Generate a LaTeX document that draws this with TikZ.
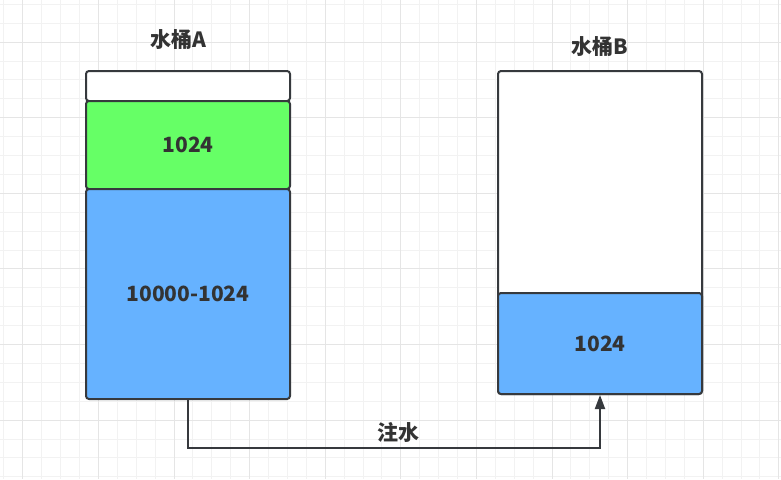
\documentclass[tikz,border=0pt]{standalone}
\usepackage{fontspec}
\setmainfont{Noto Sans CJK SC}
\usetikzlibrary{arrows.meta}
\definecolor{edge}{HTML}{36393D}
\definecolor{txt}{HTML}{333333}
\definecolor{waterblue}{HTML}{66B2FF}
\definecolor{watergreen}{HTML}{66FF66}
\begin{document}
\begin{tikzpicture}[x=1pt, y=-1pt,
    part/.style={draw=edge, line width=2pt, rounded corners=3pt,
                 minimum width=204pt, inner sep=0pt, text=txt,
                 font=\fontsize{21}{24}\selectfont\bfseries},
    title/.style={text=txt, font=\fontsize{21}{24}\selectfont\bfseries},
    flow/.style={-{Triangle[length=14pt,width=10pt]}, line width=2pt, draw=edge},
    lbl/.style={text=txt, font=\fontsize{21}{24}\selectfont\bfseries, inner sep=4pt},
    minorgrid/.style={draw=black!5, line width=0.8pt},
    majorgrid/.style={draw=black!10, line width=0.8pt}
]
\useasboundingbox[fill=white] (0,0) rectangle (781,479);

% grid
\foreach \i in {0,...,41} \draw[minorgrid] ({3.8+18.9*\i},0) -- ++(0,479);
\foreach \i in {0,...,25} \draw[minorgrid] (0,{4.2+18.9*\i}) -- ++(781,0);
\foreach \i in {0,...,10} \draw[majorgrid] ({22.7+75.6*\i},0) -- ++(0,479);
\foreach \i in {0,...,5} \draw[majorgrid] (0,{42+75.6*\i}) -- ++(781,0);

% bucket A
\node[title] (titleA) at (178,40) {水桶A};
\node[part, fill=white, minimum height=30pt] (topA) at (188,86) {};
\node[part, fill=watergreen, minimum height=88pt] (freeA) at (188,145) {1024};
\node[part, fill=waterblue, minimum height=210pt] (restA) at (188,294) {10000-1024};

% bucket B
\node[title] (titleB) at (600,47) {水桶B};
\node[part, fill=white, minimum height=323pt] (tankB) at (600,232.5) {};
\node[part, fill=waterblue, minimum height=101pt] (waterB) at (600,343.5) {1024};

\draw[flow] (restA.south) -- ++(0,48) -| node[lbl, pos=0.255, above] {注水} (waterB.south);

\end{tikzpicture}
\end{document}
